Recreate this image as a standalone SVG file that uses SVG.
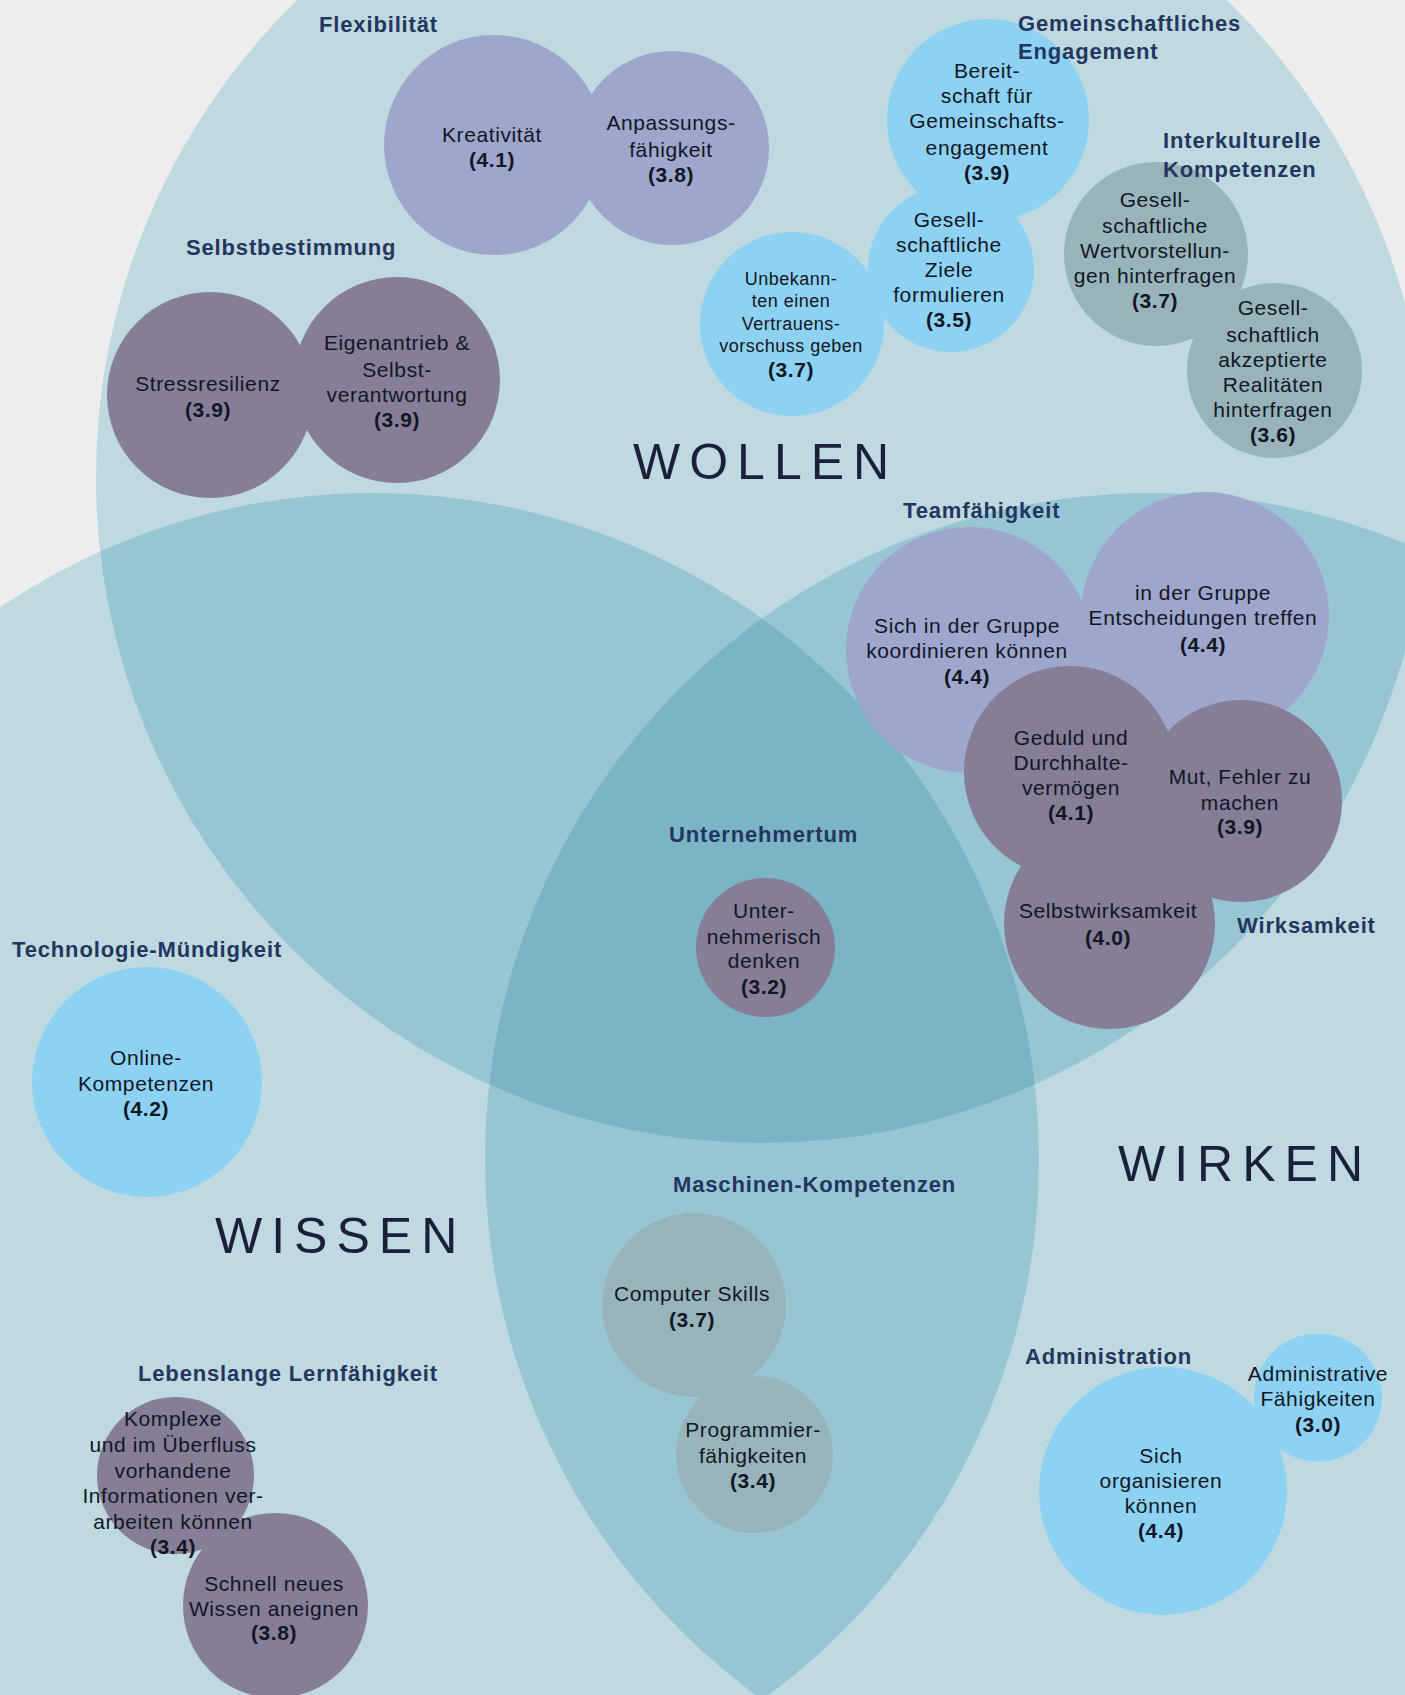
<svg xmlns="http://www.w3.org/2000/svg" width="1405" height="1695" viewBox="0 0 1405 1695">
<style>
.t{font-family:"Liberation Sans",Arial,sans-serif;font-size:21px;letter-spacing:0.6px;fill:#121624;text-anchor:middle}
.s{font-size:18px;letter-spacing:0.5px}
.b{font-weight:bold}
.lb{font-family:"Liberation Sans",Arial,sans-serif;font-size:22px;font-weight:bold;letter-spacing:0.85px;fill:#24365f}
.big{font-family:"Liberation Sans",Arial,sans-serif;font-size:50px;letter-spacing:9px;fill:#1c1f3a}
.lav{fill:#9ea6cc}.pur{fill:#857e96}.sky{fill:#8dd2f3}.gt{fill:#97b4ba}
</style>
<defs>
<clipPath id="cA"><circle cx="762" cy="477" r="666"/></clipPath>
<clipPath id="cB"><circle cx="373" cy="1159" r="666"/></clipPath>
</defs>
<rect x="0" y="0" width="1405" height="1695" fill="#ededed"/>
<g id="areas">
<circle cx="762" cy="477" r="666" fill="#bfd9e0"/>
<circle cx="373" cy="1159" r="666" fill="#bfd9e0"/>
<circle cx="1151" cy="1159" r="666" fill="#bfd9e0"/>
<circle cx="373" cy="1159" r="666" fill="#98c5d3" clip-path="url(#cA)"/>
<circle cx="1151" cy="1159" r="666" fill="#98c5d3" clip-path="url(#cA)"/>
<circle cx="1151" cy="1159" r="666" fill="#98c5d3" clip-path="url(#cB)"/>
<g clip-path="url(#cA)"><circle cx="1151" cy="1159" r="666" fill="#7ab4c5" clip-path="url(#cB)"/></g>
</g>
<g id="titles">
<text class="big" x="633" y="479">WOLLEN</text>
<text class="big" x="215" y="1253">WISSEN</text>
<text class="big" x="1118" y="1181">WIRKEN</text>
</g>
<g id="n-kreativitaet"><circle class="lav" cx="494" cy="145" r="110"/>
<text class="t" x="492" y="142">Kreativität</text><text class="t b" x="492" y="167">(4.1)</text></g>
<g id="n-anpassung"><circle class="lav" cx="672" cy="148" r="97"/>
<text class="t" x="671" y="130">Anpassungs-</text><text class="t" x="671" y="157">fähigkeit</text><text class="t b" x="671" y="182">(3.8)</text></g>
<g id="n-stress"><circle class="pur" cx="210" cy="395" r="103"/>
<text class="t" x="208" y="391">Stressresilienz</text><text class="t b" x="208" y="417">(3.9)</text></g>
<g id="n-eigenantrieb"><circle class="pur" cx="397" cy="380" r="103"/>
<text class="t" x="397" y="350">Eigenantrieb &amp;</text><text class="t" x="397" y="377">Selbst-</text><text class="t" x="397" y="402">verantwortung</text><text class="t b" x="397" y="427">(3.9)</text></g>
<g id="n-bereitschaft"><circle class="sky" cx="988" cy="120" r="101"/>
<text class="t" x="987" y="78">Bereit-</text><text class="t" x="987" y="103">schaft für</text><text class="t" x="987" y="128">Gemeinschafts-</text><text class="t" x="987" y="155">engagement</text><text class="t b" x="987" y="180">(3.9)</text></g>
<g id="n-ziele"><circle class="sky" cx="951" cy="269" r="83"/>
<text class="t" x="949" y="227">Gesell-</text><text class="t" x="949" y="252">schaftliche</text><text class="t" x="949" y="277">Ziele</text><text class="t" x="949" y="302">formulieren</text><text class="t b" x="949" y="327">(3.5)</text></g>
<g id="n-vertrauen"><circle class="sky" cx="792" cy="324" r="92"/>
<text class="t s" x="791" y="285">Unbekann-</text><text class="t s" x="791" y="307">ten einen</text><text class="t s" x="791" y="330">Vertrauens-</text><text class="t s" x="791" y="352">vorschuss geben</text><text class="t b" x="791" y="377">(3.7)</text></g>
<g id="n-wertvorstellungen"><circle class="gt" cx="1156" cy="254" r="92"/>
<text class="t" x="1155" y="207">Gesell-</text><text class="t" x="1155" y="233">schaftliche</text><text class="t" x="1155" y="258">Wertvorstellun-</text><text class="t" x="1155" y="283">gen hinterfragen</text><text class="t b" x="1155" y="308">(3.7)</text></g>
<g id="n-realitaeten"><circle class="gt" cx="1274.5" cy="370.5" r="87.5"/>
<text class="t" x="1273" y="315">Gesell-</text><text class="t" x="1273" y="342">schaftlich</text><text class="t" x="1273" y="367">akzeptierte</text><text class="t" x="1273" y="392">Realitäten</text><text class="t" x="1273" y="417">hinterfragen</text><text class="t b" x="1273" y="442">(3.6)</text></g>
<g id="n-koordinieren"><circle class="lav" cx="969" cy="650" r="123"/>
<text class="t" x="967" y="633">Sich in der Gruppe</text><text class="t" x="967" y="658">koordinieren können</text><text class="t b" x="967" y="684">(4.4)</text></g>
<g id="n-entscheidungen"><circle class="lav" cx="1205" cy="616" r="124"/>
<text class="t" x="1203" y="600">in der Gruppe</text><text class="t" x="1203" y="625">Entscheidungen treffen</text><text class="t b" x="1203" y="652">(4.4)</text></g>
<g id="n-selbstwirksamkeit"><circle class="pur" cx="1109.5" cy="923.5" r="105.5"/>
<text class="t" x="1108" y="918">Selbstwirksamkeit</text><text class="t b" x="1108" y="945">(4.0)</text></g>
<g id="n-geduld"><circle class="pur" cx="1070" cy="772" r="106"/>
<text class="t" x="1071" y="745">Geduld und</text><text class="t" x="1071" y="770">Durchhalte-</text><text class="t" x="1071" y="795">vermögen</text><text class="t b" x="1071" y="820">(4.1)</text></g>
<g id="n-mut"><circle class="pur" cx="1241" cy="801" r="101"/>
<text class="t" x="1240" y="784">Mut, Fehler zu</text><text class="t" x="1240" y="810">machen</text><text class="t b" x="1240" y="834">(3.9)</text></g>
<g id="n-unternehmerisch"><circle class="pur" cx="765.5" cy="947.5" r="69.5"/>
<text class="t" x="764" y="918">Unter-</text><text class="t" x="764" y="944">nehmerisch</text><text class="t" x="764" y="968">denken</text><text class="t b" x="764" y="994">(3.2)</text></g>
<g id="n-online"><circle class="sky" cx="147" cy="1082" r="115"/>
<text class="t" x="146" y="1065">Online-</text><text class="t" x="146" y="1091">Kompetenzen</text><text class="t b" x="146" y="1116">(4.2)</text></g>
<g id="n-computer"><circle class="gt" cx="694" cy="1305" r="92"/>
<text class="t" x="692" y="1301">Computer Skills</text><text class="t b" x="692" y="1327">(3.7)</text></g>
<g id="n-programmier"><circle class="gt" cx="754.5" cy="1454.5" r="78.5"/>
<text class="t" x="753" y="1437">Programmier-</text><text class="t" x="753" y="1463">fähigkeiten</text><text class="t b" x="753" y="1488">(3.4)</text></g>
<g id="n-schnell"><circle class="pur" cx="275.5" cy="1605.5" r="92.5"/>
<text class="t" x="274" y="1591">Schnell neues</text><text class="t" x="274" y="1616">Wissen aneignen</text><text class="t b" x="274" y="1640">(3.8)</text></g>
<g id="n-komplexe"><circle class="pur" cx="175.5" cy="1475.5" r="78.5"/>
<text class="t" x="173" y="1426">Komplexe</text><text class="t" x="173" y="1452">und im Überfluss</text><text class="t" x="173" y="1478">vorhandene</text><text class="t" x="173" y="1503">Informationen ver-</text><text class="t" x="173" y="1529">arbeiten können</text><text class="t b" x="173" y="1554">(3.4)</text></g>
<g id="n-organisieren"><circle class="sky" cx="1163" cy="1491" r="124"/>
<text class="t" x="1161" y="1463">Sich</text><text class="t" x="1161" y="1488">organisieren</text><text class="t" x="1161" y="1513">können</text><text class="t b" x="1161" y="1538">(4.4)</text></g>
<g id="n-administrative"><circle class="sky" cx="1318" cy="1397.5" r="64"/>
<text class="t" x="1318" y="1381">Administrative</text><text class="t" x="1318" y="1406">Fähigkeiten</text><text class="t b" x="1318" y="1432">(3.0)</text></g>
<g id="labels">
<text class="lb" x="319" y="32">Flexibilität</text>
<text class="lb" x="186" y="255">Selbstbestimmung</text>
<text class="lb" x="1018" y="31">Gemeinschaftliches</text>
<text class="lb" x="1018" y="59">Engagement</text>
<text class="lb" x="1163" y="148">Interkulturelle</text>
<text class="lb" x="1163" y="177">Kompetenzen</text>
<text class="lb" x="903" y="518">Teamfähigkeit</text>
<text class="lb" x="669" y="842">Unternehmertum</text>
<text class="lb" x="1237" y="933">Wirksamkeit</text>
<text class="lb" x="12" y="957">Technologie-Mündigkeit</text>
<text class="lb" x="673" y="1192">Maschinen-Kompetenzen</text>
<text class="lb" x="138" y="1381">Lebenslange Lernfähigkeit</text>
<text class="lb" x="1025" y="1364">Administration</text>
</g>
<g id="connectors"/>
</svg>
